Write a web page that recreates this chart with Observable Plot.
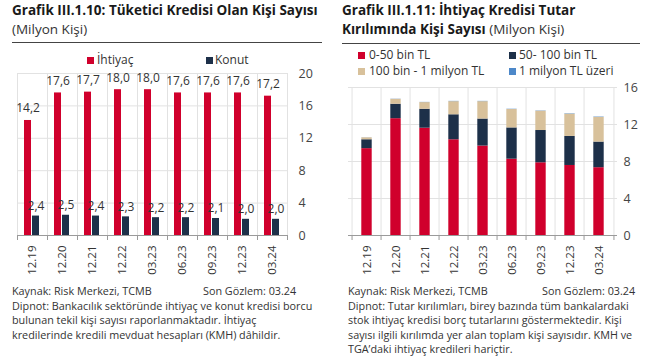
<!DOCTYPE html>
<html><head><meta charset="utf-8">
<script src="https://cdn.jsdelivr.net/npm/d3@7"></script>
<script src="https://cdn.jsdelivr.net/npm/@observablehq/plot@0.6"></script>
<style>
body{margin:0;background:#fff;font-family:"Open Sans",sans-serif;color:#262626;}
#root{position:relative;width:658px;height:360px;overflow:hidden;}
.abs{position:absolute;white-space:nowrap;line-height:1;}
.title{font-weight:bold;font-size:13.5px;color:#1a1a1a;}
.sub{font-size:13.5px;color:#333;}
.rule{position:absolute;height:1px;background:#444;}
.sq{position:absolute;width:7px;height:7px;}
.leg{position:absolute;font-size:12px;color:#333;white-space:nowrap;line-height:1;}
.foot{position:absolute;font-size:10.8px;color:#333;line-height:14.5px;white-space:nowrap;}
svg{position:absolute;}
</style></head>
<body><div id="root">
<div class="abs title" style="left:12px;top:4px">Grafik III.1.10: Tüketici Kredisi Olan Kişi Sayısı</div>
<div class="abs sub" style="left:12px;top:23px">(Milyon Kişi)</div>
<div class="rule" style="left:12px;top:42px;width:310px"></div>
<div class="abs title" style="left:342px;top:4px">Grafik III.1.11: İhtiyaç Kredisi Tutar</div>
<div class="abs title" style="left:342px;top:23px">Kırılımında Kişi Sayısı <span style="font-weight:normal;color:#333">(Milyon Kişi)</span></div>
<div class="rule" style="left:342px;top:43px;width:298px"></div>
<div id="legL"></div><div id="legR"></div>
<div id="chartL"></div><div id="chartR"></div>
<div class="foot" style="left:12px;top:284px">Kaynak: Risk Merkezi, TCMB<span style="position:absolute;left:191px">Son Gözlem: 03.24</span><br>Dipnot: Bankacılık sektöründe ihtiyaç ve konut kredisi borcu<br>bulunan tekil kişi sayısı raporlanmaktadır. İhtiyaç<br>kredilerinde kredili mevduat hesapları (KMH) dâhildir.</div>
<div class="foot" style="left:348px;top:284px">Kaynak: Risk Merkezi, TCMB<span style="position:absolute;left:194px">Son Gözlem: 03.24</span><br>Dipnot: Tutar kırılımları, birey bazında tüm bankalardaki<br>stok ihtiyaç kredisi borç tutarlarını göstermektedir. Kişi<br>sayısı ilgili kırılımda yer alan toplam kişi sayısıdır. KMH ve<br>TGA’daki ihtiyaç kredileri hariçtir.</div>
</div>
<script>
const periods = ["12.19","12.20","12.21","12.22","03.23","06.23","09.23","12.23","03.24"];
// Left chart
const ihtiyac = [14.2,17.6,17.7,18.0,18.0,17.6,17.6,17.6,17.2];
const konut = [2.4,2.5,2.4,2.3,2.2,2.2,2.1,2.0,2.0];
const seriesL = ["İhtiyaç","Konut"];
const yTicksL = [0,4,8,12,16,20];
// Right chart (stacked)
const seriesR = ["0-50 bin TL","50- 100 bin TL","100 bin - 1 milyon TL","1 milyon TL üzeri"];
const b0_50 = [9.39,12.63,11.60,10.35,9.67,8.25,7.86,7.57,7.33];
const b50_100 = [0.96,1.56,2.05,2.70,2.92,3.38,3.49,3.14,2.77];
const b100_1m = [0.21,0.53,0.72,1.42,1.88,1.99,2.09,2.41,2.67];
const b1m = [0.01,0.02,0.02,0.03,0.03,0.03,0.03,0.04,0.04];
const yTicksR = [0,4,8,12,16];

const RED="#d0002c", NAVY="#1d3049", TAN="#d8c19b", BLUE="#4d88c9", GRID="#e2e2e2", AXIS="#9a9a9a";
const colorsL = [RED, NAVY];
const colorsR = [RED, NAVY, TAN, BLUE];

const fmt = v => v.toFixed(1).replace(".", ",");
const dataL = periods.map((p,i)=>({p, ih: ihtiyac[i], ko: konut[i]}));
const dataR = [];
[b0_50,b50_100,b100_1m,b1m].forEach((arr,k)=>arr.forEach((v,i)=>dataR.push({p:periods[i], s:seriesR[k], v})));

function legend(id, items, colors, pos){
  const el=document.getElementById(id);
  items.forEach((t,i)=>{
    const [sx,sy,tx,ty]=pos[i];
    el.insertAdjacentHTML("beforeend",`<div class="sq" style="left:${sx}px;top:${sy}px;background:${colors[i]}"></div><div class="leg" style="left:${tx}px;top:${ty}px">${t}</div>`);
  });
}
legend("legL", seriesL, colorsL, [[87,57,97,54],[206,57,215,54]]);
legend("legR", seriesR, colorsR, [[358,52,369,49],[509,52,519,49],[358,68,369,65],[509,68,519,65]]);

const common = (step) => [
  Plot.ruleX(periods, {x: d=>d, dx: -step/2, stroke: GRID}),
  Plot.ruleX(periods.slice(-1), {x: d=>d, dx: step/2, stroke: GRID}),
  Plot.ruleX(periods, {x: d=>d, dx: -step/2, y1: 0, y2: 0, insetBottom: -5, stroke: AXIS}),
  Plot.ruleX(periods.slice(-1), {x: d=>d, dx: step/2, y1: 0, y2: 0, insetBottom: -5, stroke: AXIS}),
];

const left = Plot.plot({
  width: 330, height: 230,
  marginLeft: 17, marginRight: 43, marginTop: 28, marginBottom: 40,
  style: {fontFamily: "Open Sans", fontSize: "12px", color: "#333", background: "transparent"},
  x: {domain: periods, padding: 0},
  y: {domain: [0,20]},
  marks: [
    Plot.ruleY(yTicksL.slice(1), {stroke: GRID}),
    ...common(30),
    Plot.barY(dataL, {x: "p", y: "ih", fill: RED, insetLeft: 7, insetRight: 16}),
    Plot.barY(dataL, {x: "p", y: "ko", fill: NAVY, insetLeft: 15, insetRight: 8}),
    Plot.text(dataL, {x: "p", y: "ih", text: d=>fmt(d.ih), dx: -4.5, dy: -12, fontSize: 12, fill: "#333"}),
    Plot.text(dataL, {x: "p", y: "ko", text: d=>fmt(d.ko), dx: 3.5, dy: -10, fontSize: 12, fill: "#333"}),
    Plot.ruleY([0], {stroke: AXIS}),
    Plot.axisY({anchor: "right", ticks: yTicksL, tickSize: 0, tickPadding: 11, fontSize: 12.5, fill: "#444", label: null}),
    Plot.axisX({tickRotate: -90, tickSize: 0, tickPadding: 10, fontSize: 11.5, fill: "#333", label: null})
  ]
});
left.style.left="0px"; left.style.top="45px";
document.getElementById("chartL").appendChild(left);

const right = Plot.plot({
  width: 328, height: 230,
  marginLeft: 18, marginRight: 41, marginTop: 42, marginBottom: 40,
  style: {fontFamily: "Open Sans", fontSize: "12px", color: "#333", background: "transparent"},
  x: {domain: periods, padding: 0},
  y: {domain: [0,16]},
  color: {domain: seriesR, range: colorsR},
  marks: [
    Plot.ruleY(yTicksR.slice(1), {stroke: GRID}),
    ...common(269/9),
    Plot.barY(dataR, {x: "p", y: "v", fill: "s", order: seriesR, insetLeft: 9.3, insetRight: 9.3}),
    Plot.ruleY([0], {stroke: AXIS}),
    Plot.axisY({anchor: "right", ticks: yTicksR, tickSize: 0, tickPadding: 6, fontSize: 12.5, fill: "#444", label: null}),
    Plot.axisX({tickRotate: -90, tickSize: 0, tickPadding: 10, fontSize: 11.5, fill: "#333", label: null})
  ]
});
right.style.left="330px"; right.style.top="45px";
document.getElementById("chartR").appendChild(right);
</script>
</body></html>
